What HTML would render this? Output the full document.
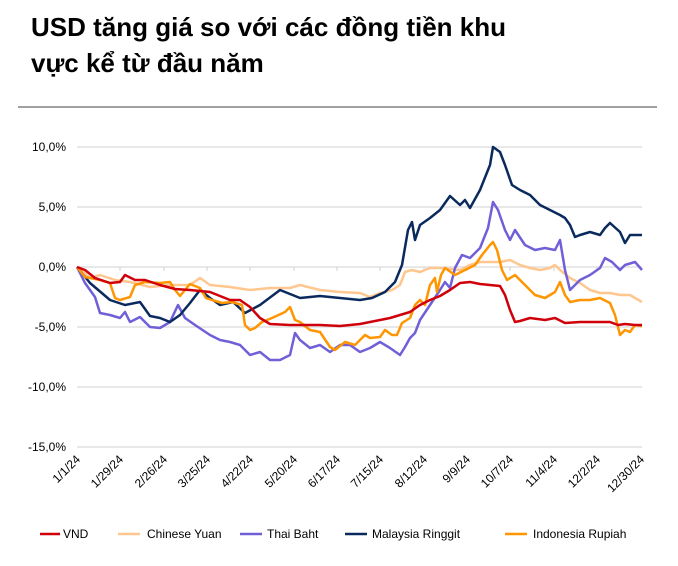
<!DOCTYPE html>
<html><head><meta charset="utf-8"><style>
body{margin:0;background:#fff;width:678px;height:561px;overflow:hidden;font-family:"Liberation Sans",sans-serif}
</style></head><body>
<svg width="678" height="561" xmlns="http://www.w3.org/2000/svg" font-family="Liberation Sans, sans-serif">
<text x="31" y="36" font-size="26" font-weight="bold" fill="#000">USD tăng giá so với các đồng tiền khu</text>
<text x="31" y="72" font-size="26" font-weight="bold" fill="#000">vực kể từ đầu năm</text>
<line x1="18" y1="107" x2="657" y2="107" stroke="#a0a0a0" stroke-width="2"/>
<g stroke="#e0e0e0" stroke-width="1.5">
<line x1="77" y1="147" x2="642" y2="147"/><line x1="77" y1="207" x2="642" y2="207"/>
<line x1="77" y1="267" x2="642" y2="267"/><line x1="77" y1="327" x2="642" y2="327"/>
<line x1="77" y1="387" x2="642" y2="387"/><line x1="77" y1="447" x2="642" y2="447"/>
</g>
<g stroke="#d0d0d0" stroke-width="1">
<line x1="120" y1="267" x2="120" y2="271"/><line x1="164" y1="267" x2="164" y2="271"/><line x1="207" y1="267" x2="207" y2="271"/><line x1="250" y1="267" x2="250" y2="271"/><line x1="294" y1="267" x2="294" y2="271"/><line x1="337" y1="267" x2="337" y2="271"/><line x1="380" y1="267" x2="380" y2="271"/><line x1="424" y1="267" x2="424" y2="271"/><line x1="467" y1="267" x2="467" y2="271"/><line x1="510" y1="267" x2="510" y2="271"/><line x1="554" y1="267" x2="554" y2="271"/><line x1="597" y1="267" x2="597" y2="271"/>
</g>
<g font-size="12" fill="#000" text-anchor="end">
<text x="66" y="151">10,0%</text><text x="66" y="211">5,0%</text><text x="66" y="271">0,0%</text>
<text x="66" y="331">-5,0%</text><text x="66" y="391">-10,0%</text><text x="66" y="451">-15,0%</text>
</g>
<g font-size="12" fill="#000" text-anchor="end">
<text transform="translate(81,460) rotate(-45)">1/1/24</text>
<text transform="translate(124,460) rotate(-45)">1/29/24</text>
<text transform="translate(168,460) rotate(-45)">2/26/24</text>
<text transform="translate(211,460) rotate(-45)">3/25/24</text>
<text transform="translate(254,460) rotate(-45)">4/22/24</text>
<text transform="translate(298,460) rotate(-45)">5/20/24</text>
<text transform="translate(341,460) rotate(-45)">6/17/24</text>
<text transform="translate(384,460) rotate(-45)">7/15/24</text>
<text transform="translate(428,460) rotate(-45)">8/12/24</text>
<text transform="translate(471,460) rotate(-45)">9/9/24</text>
<text transform="translate(514,460) rotate(-45)">10/7/24</text>
<text transform="translate(558,460) rotate(-45)">11/4/24</text>
<text transform="translate(601,460) rotate(-45)">12/2/24</text>
<text transform="translate(645,460) rotate(-45)">12/30/24</text>
</g>
<g fill="none" stroke-width="2.5" stroke-linejoin="round">
<polyline stroke="#ffc78f" points="77,267 90,278 100,275 115,280 130,282 150,287 170,285 190,285 200,278 210,285 230,287 250,290 270,288 290,288 300,285 320,290 340,292 360,293 370,297 380,293 392,290 400,285 405,272 412,270 420,272 430,268 440,268 460,270 470,265 480,262 490,262 500,262 510,260 520,265 530,268 540,270 550,268 555,265 560,270 570,278 580,283 590,290 600,293 610,293 620,295 630,295 642,302"/>
<polyline stroke="#7060d8" points="77,267 85,283 95,297 100,313 110,315 120,318 125,312 130,322 140,317 150,327 160,328 170,322 178,305 185,318 195,325 210,335 220,340 230,342 240,345 250,355 260,352 270,360 280,360 290,355 295,333 300,340 310,348 320,345 330,352 340,345 350,345 360,352 370,348 380,342 390,348 400,355 405,347 410,338 415,333 420,320 430,305 440,290 445,282 450,288 455,268 462,255 470,258 480,248 488,228 493,202 498,210 505,230 510,240 515,230 525,245 535,250 545,248 555,250 560,240 565,270 570,290 575,285 580,280 590,275 600,268 605,258 612,262 620,270 625,265 635,262 642,270"/>
<polyline stroke="#0a2a5e" points="77,267 90,283 110,300 125,305 140,302 150,316 160,318 170,322 180,315 190,303 200,290 210,298 220,305 233,302 245,313 260,305 280,290 300,298 320,296 340,298 360,300 372,298 385,292 395,282 402,265 408,230 412,222 415,240 420,225 430,218 440,210 450,196 460,205 465,200 470,208 480,190 490,165 493,147 500,152 505,165 512,185 520,190 530,195 540,205 550,210 560,215 565,218 570,225 575,237 580,235 590,232 600,235 605,228 610,223 620,232 625,243 630,235 642,235"/>
<polyline stroke="#ff9500" points="77,267 85,277 100,280 110,283 115,298 120,300 130,297 135,285 145,282 160,283 170,282 175,290 180,296 185,290 190,284 200,288 206,298 212,300 222,303 232,302 242,305 245,325 250,330 255,328 262,322 272,318 285,312 290,307 295,320 300,322 310,330 320,332 330,347 335,350 345,342 355,345 365,335 370,338 380,337 385,330 392,335 397,335 402,323 410,318 415,305 420,300 425,305 430,285 435,278 437,292 441,275 445,268 455,275 465,270 475,265 482,255 490,245 493,242 497,250 502,270 507,280 515,275 525,285 535,295 545,298 555,292 560,282 565,295 570,302 580,300 590,300 600,298 610,303 615,315 620,335 625,330 630,332 635,325 642,326"/>
<polyline stroke="#d0000a" points="77,267 85,270 95,278 110,283 120,282 125,275 135,280 145,280 160,285 175,289 190,290 210,292 230,300 240,300 250,307 260,318 270,324 290,325 320,325 340,326 360,324 380,320 390,318 400,315 410,312 420,305 430,300 440,296 450,290 460,283 470,282 480,284 490,285 500,286 505,295 510,310 515,322 520,321 530,318 545,320 555,318 565,323 580,322 590,322 600,322 610,322 618,325 625,324 635,325 642,325"/>
</g>
<g stroke-width="2.5">
<line x1="40" y1="534" x2="60" y2="534" stroke="#d0000a"/>
<line x1="118" y1="534" x2="140" y2="534" stroke="#ffc78f"/>
<line x1="240" y1="534" x2="262" y2="534" stroke="#7060d8"/>
<line x1="345" y1="534" x2="367" y2="534" stroke="#0a2a5e"/>
<line x1="505" y1="534" x2="527" y2="534" stroke="#ff9500"/>
</g>
<g font-size="12" fill="#000">
<text x="63" y="538">VND</text><text x="147" y="538">Chinese Yuan</text><text x="267" y="538">Thai Baht</text>
<text x="372" y="538">Malaysia Ringgit</text><text x="533" y="538">Indonesia Rupiah</text>
</g>
</svg>
</body></html>
